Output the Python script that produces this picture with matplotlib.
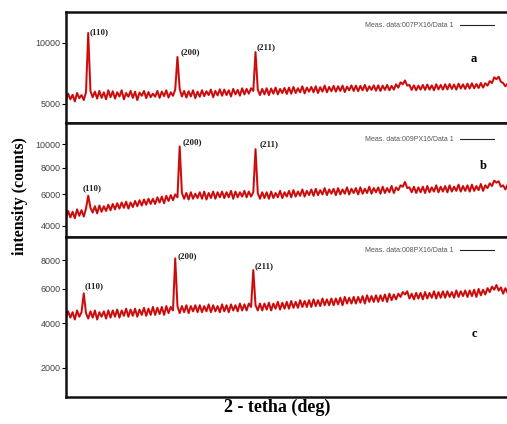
import numpy as np
import matplotlib
matplotlib.use("Agg")
import matplotlib.pyplot as plt

# 2-theta sampling grid (deg), 0.5 deg steps from 40 to 140
two_theta = np.arange(40.0, 140.25, 0.5)

# sample a: 007PX16
counts_a = [
    5200, 5700, 5300, 5620, 5150, 5750, 5380, 5600, 5250, 5800,
    10950, 5900, 5450, 5850, 5350, 5900, 5400, 5800, 5300, 5950,
    5450, 5880, 5350, 5800, 5500, 5950, 5300, 5750, 5480, 5900,
    5400, 5850, 5250, 5780, 5550, 5900, 5380, 5820, 5450, 5700,
    5480, 5900, 5400, 5850, 5520, 5950, 5420, 5800, 5550, 6000,
    8670, 6050, 5500, 5900, 5420, 5880, 5500, 5950, 5380, 5850,
    5480, 5950, 5520, 5880, 5600, 6000, 5450, 5900, 5580, 6020,
    5550, 6000, 5600, 5950, 5500, 6050, 5650, 5980, 5560, 6100,
    5650, 6050, 5700, 6100, 5900, 9120, 6000, 5600, 6050, 5650,
    6100, 5600, 6080, 5700, 6150, 5650, 6050, 5750, 6120, 5680,
    6150, 5700, 6200, 5750, 6100, 5800, 6250, 5720, 6150, 5850,
    6200, 5800, 6250, 5750, 6180, 5850, 6300, 5800, 6200, 5880,
    6280, 5850, 6250, 5900, 6300, 5820, 6220, 5950, 6320, 5900,
    6300, 5880, 6280, 5950, 6350, 5900, 6250, 5980, 6320, 5920,
    6320, 5900, 6300, 5980, 6350, 5950, 6280, 6000, 6400, 6150,
    6550, 6400, 6700, 6300, 6350, 5980, 6320, 5950, 6300, 6000,
    6350, 5980, 6380, 6000, 6320, 5950, 6400, 6020, 6350, 6000,
    6400, 6020, 6420, 6050, 6380, 6000, 6450, 6080, 6400, 6050,
    6450, 6080, 6480, 6100, 6420, 6120, 6500, 6150, 6480, 6300,
    6650, 6500, 6950, 6800, 7000, 6600, 6500, 6250, 6450, 6150,
    6350,
]

# sample b: 009PX16
counts_b = [
    4400, 4900, 4500, 4850, 4450, 5000, 4600, 4950, 4550, 5050,
    5910, 5100, 4800, 5200, 4750, 5250, 4850, 5200, 4900, 5300,
    4950, 5350, 5000, 5400, 5050, 5450, 5100, 5500, 5050, 5450,
    5150, 5550, 5200, 5600, 5250, 5650, 5300, 5700, 5350, 5700,
    5350, 5800, 5450, 5850, 5400, 5900, 5550, 5950, 5600, 6000,
    5800, 9820, 6100, 5700, 6100, 5650, 6150, 5700, 6050, 5750,
    6150, 5700, 6200, 5650, 6100, 5750, 6200, 5700, 6150, 5800,
    6200, 5750, 6150, 5800, 6250, 5700, 6200, 5800, 6150, 5850,
    6250, 5800, 6200, 5850, 6150, 9580, 6100, 5700, 6150, 5750,
    6150, 5700, 6200, 5750, 6100, 5800, 6250, 5750, 6150, 5850,
    6250, 5800, 6300, 5850, 6200, 5900, 6350, 5850, 6250, 5950,
    6350, 5900, 6400, 5950, 6300, 6000, 6450, 5950, 6350, 6050,
    6400, 5950, 6450, 6000, 6350, 6050, 6500, 6000, 6400, 6100,
    6450, 6000, 6500, 6050, 6400, 6100, 6550, 6050, 6450, 6150,
    6500, 6050, 6550, 6100, 6450, 6150, 6600, 6100, 6500, 6300,
    6650, 6550, 6900, 6450, 6500, 6150, 6550, 6100, 6500, 6150,
    6550, 6100, 6600, 6150, 6500, 6200, 6650, 6150, 6550, 6200,
    6600, 6150, 6650, 6200, 6550, 6250, 6700, 6200, 6600, 6250,
    6650, 6200, 6700, 6250, 6600, 6300, 6750, 6250, 6650, 6450,
    6800, 6600, 7000, 6850, 6950, 6550, 6650, 6350, 6700, 6300,
    6550,
]

# sample c: 008PX16
counts_c = [
    4250, 4650, 4300, 4600, 4200, 4700, 4350, 4600, 5720, 4550,
    4250, 4650, 4300, 4700, 4200, 4600, 4350, 4650, 4250, 4700,
    4300, 4700, 4350, 4750, 4300, 4700, 4400, 4800, 4350, 4750,
    4400, 4800, 4350, 4750, 4450, 4850, 4400, 4800, 4450, 4900,
    4450, 4850, 4500, 4900, 4450, 4950, 4550, 4900, 4700, 8120,
    4950, 4550, 4950, 4600, 5000, 4550, 4950, 4650, 5000, 4600,
    5000, 4600, 4950, 4650, 5050, 4600, 5000, 4650, 4950, 4600,
    5050, 4650, 5000, 4600, 5050, 4700, 5000, 4650, 5100, 4700,
    5050, 4700, 5100, 4900, 7275, 5000, 4700, 5100, 4700, 5100,
    4750, 5150, 4700, 5100, 4800, 5200, 4750, 5150, 4800, 5200,
    4800, 5250, 4850, 5200, 4850, 5300, 4900, 5250, 4900, 5300,
    4900, 5350, 4950, 5300, 4950, 5400, 5000, 5350, 5000, 5400,
    5000, 5400, 5050, 5450, 5000, 5500, 5100, 5450, 5100, 5500,
    5100, 5500, 5150, 5550, 5100, 5600, 5200, 5550, 5200, 5600,
    5200, 5600, 5250, 5650, 5200, 5700, 5300, 5650, 5350, 5700,
    5500, 5800, 5650, 5850, 5400, 5700, 5350, 5750, 5400, 5750,
    5350, 5800, 5400, 5750, 5450, 5850, 5400, 5800, 5450, 5850,
    5450, 5850, 5500, 5800, 5450, 5900, 5500, 5850, 5550, 5900,
    5500, 5900, 5550, 5950, 5500, 6000, 5600, 5950, 5650, 6050,
    5800, 6150, 5950, 6255, 5900, 6100, 5700, 6050, 5750, 6000,
    5850,
]

legend_labels = ["Meas. data:007PX16/Data 1",
                 "Meas. data:009PX16/Data 1",
                 "Meas. data:008PX16/Data 1"]
panel_letters = ["a", "b", "c"]
peak_names = ["(110)", "(200)", "(211)"]

serif = ["Liberation Serif", "DejaVu Serif"]
plt.rcParams["font.family"] = ["Liberation Sans", "DejaVu Sans"]

fig = plt.figure(figsize=(5.07, 4.24), dpi=100)

# [left, bottom, width, height] in figure fraction
rects = [
    [0.130, 0.710, 0.880, 0.2625],
    [0.130, 0.4417, 0.880, 0.2683],
    [0.130, 0.0644, 0.880, 0.3773],
]
ylims = [(3775, 13200), (3408, 12030), (1078, 9819)]
yticks = [[5000, 10000], [4000, 6000, 8000, 10000], [2000, 4000, 6000, 8000]]
# peak label anchors (deg, counts) and panel letter anchors
peak_pos = [
    [(45.3, 11050), (65.6, 9125), (82.8, 9590)],
    [(43.8, 6420), (66.2, 10240), (83.5, 10030)],
    [(44.3, 6150), (65.1, 8250), (82.4, 7560)],
]
letter_pos = [(131.3, 8500), (133.5, 8160), (131.5, 3460)]
legend_y = [0.874, 0.853, 0.912]

sqrt_fwd = lambda v: np.sqrt(np.clip(v, 0, None))

for k, counts in enumerate([counts_a, counts_b, counts_c]):
    ax = fig.add_axes(rects[k])
    ax.plot(two_theta, counts, color="#e31414", lw=1.5, zorder=2)
    ax.plot(two_theta, counts, color="#3a0000", lw=0.35, alpha=0.45, zorder=3,
            label=legend_labels[k])
    ax.set_yscale("function", functions=(sqrt_fwd, np.square))
    ax.set_xlim(40, 140)
    ax.set_ylim(*ylims[k])
    ax.set_yticks(yticks[k])
    ax.set_yticklabels([str(t) for t in yticks[k]])
    ax.yaxis.set_minor_locator(matplotlib.ticker.NullLocator())
    ax.set_xticks([])
    ax.tick_params(axis="y", direction="out", length=3, width=0.8,
                   labelsize=6.5, labelcolor="#444444", pad=1)
    for sp in ax.spines.values():
        sp.set_linewidth(1.8)
        sp.set_color("#111111")

    for name, (px, py) in zip(peak_names, peak_pos[k]):
        ax.text(px, py, name, fontsize=6.5, fontweight="bold", family=serif,
                ha="left", va="center", color="#222222")
    lx, ly = letter_pos[k]
    ax.text(lx, ly, panel_letters[k], fontsize=9, fontweight="bold",
            family=serif, ha="center", va="center")

    leg = ax.legend(loc="center right", bbox_to_anchor=(0.96, legend_y[k]),
                    frameon=False, fontsize=5, markerfirst=False,
                    handlelength=5, handletextpad=0.8, borderpad=0,
                    borderaxespad=0)
    for t in leg.get_texts():
        t.set_color("#555555")
    for h in leg.legend_handles:
        h.set_color("#222222")
        h.set_linewidth(0.8)
        h.set_alpha(1)

fig.text(0.040, 0.538, "intensity (counts)", rotation=90, fontsize=11.5,
         fontweight="bold", family=serif, ha="center", va="center")
fig.text(0.546, 0.040, "2 - tetha (deg)", fontsize=13, fontweight="bold",
         family=serif, ha="center", va="center")

fig.savefig("out.png", dpi=100)
